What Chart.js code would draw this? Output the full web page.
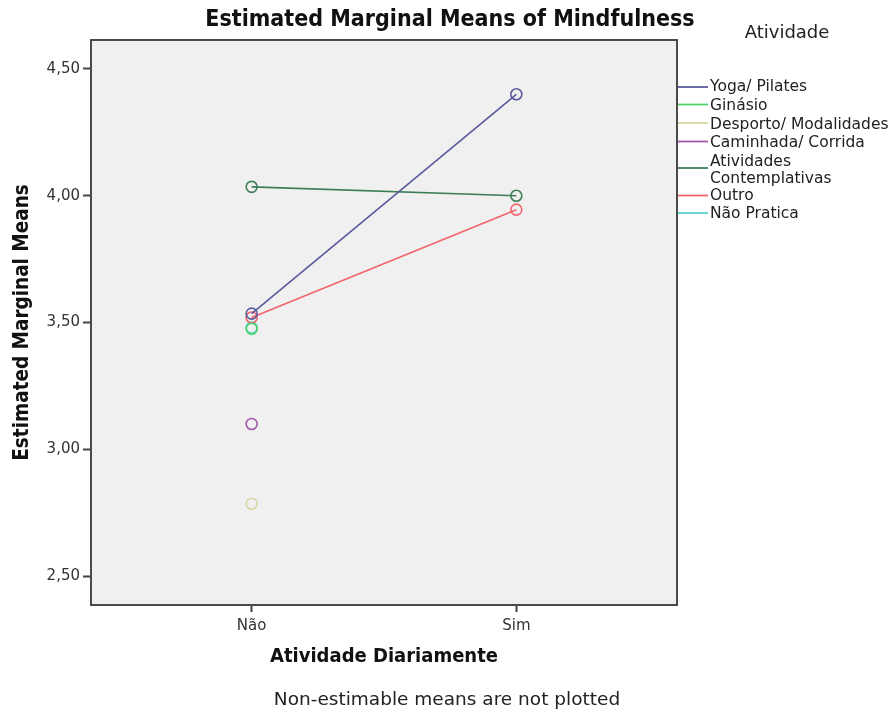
<!DOCTYPE html>
<html><head><meta charset="utf-8">
<script src="https://cdn.jsdelivr.net/npm/chart.js@4"></script>
<style>html,body{margin:0;padding:0;background:#fff}#wrap{width:892px;height:711px}</style>
</head><body><div id="wrap"><canvas id="c" width="892" height="711"></canvas></div>
<script>
// ---- data ----
const categories = ['Não', 'Sim'];
const seriesNames = ['Yoga/ Pilates', 'Ginásio', 'Desporto/ Modalidades', 'Caminhada/ Corrida', 'Atividades\nContemplativas', 'Outro', 'Não Pratica'];
const yoga = [3.535, 4.40];
const ginasio = [3.475, null];
const desporto = [2.785, null];
const caminhada = [3.10, null];
const contemplativas = [4.035, 4.00];
const outro = [3.52, 3.945];
const naoPratica = [3.48, null];
const yTickValues = [2.50, 3.00, 3.50, 4.00, 4.50];
const chartTitle = 'Estimated Marginal Means of Mindfulness';
const xTitle = 'Atividade Diariamente';
const yTitle = 'Estimated Marginal Means';
const legendTitle = 'Atividade';
const footNote = 'Non-estimable means are not plotted';

const seriesValues = [yoga, ginasio, desporto, caminhada, contemplativas, outro, naoPratica];
const seriesColors = ['#5a5a9e', '#52d46c', '#d9d5a2', '#a257aa', '#3e7d58', '#f2636c', '#55d2cc'];

const TITLE_FONT = '"Liberation Sans Narrow", "DejaVu Sans Condensed", sans-serif';
const BODY_FONT = '"DejaVu Sans", Verdana, sans-serif';

const datasets = seriesValues.map((vals, i) => ({
  label: seriesNames[i].replace('\n', ' '),
  data: vals.map((v, j) => ({x: j, y: v})),
  borderColor: seriesColors[i],
  backgroundColor: 'rgba(0,0,0,0)',
  pointBackgroundColor: 'rgba(0,0,0,0)',
  pointBorderColor: seriesColors[i],
  pointRadius: 5.5,
  pointBorderWidth: 1.6,
  pointHoverRadius: 5.5,
  borderWidth: 1.6,
  spanGaps: false,
  tension: 0
}));

const decor = {
  id: 'decor',
  beforeDraw(chart) {
    const {ctx, chartArea: a} = chart;
    ctx.save();
    ctx.fillStyle = '#fff';
    ctx.fillRect(0, 0, chart.width, chart.height);
    ctx.fillStyle = '#f0f0f0';
    ctx.fillRect(a.left, a.top, a.right - a.left, a.bottom - a.top);
    ctx.restore();
  },
  afterDraw(chart) {
    const {ctx, chartArea: a} = chart;
    ctx.save();
    // frame
    ctx.strokeStyle = '#4a4a4a';
    ctx.lineWidth = 2;
    ctx.strokeRect(a.left, a.top, a.right - a.left, a.bottom - a.top);
    // title
    ctx.fillStyle = '#111';
    ctx.textAlign = 'center';
    ctx.textBaseline = 'middle';
    ctx.font = 'bold 23px ' + TITLE_FONT;
    ctx.fillText(chartTitle, 450, 20);
    // footnote
    ctx.font = '18.5px ' + BODY_FONT;
    ctx.fillStyle = '#222';
    ctx.fillText(footNote, 447, 700);
    // legend
    ctx.font = '18px ' + BODY_FONT;
    ctx.fillStyle = '#222';
    ctx.fillText(legendTitle, 787, 33);
    const rows = [[87], [105.5], [124.5], [143], [161.5, 178.5], [196], [214]];
    const lineYs = [87, 104.5, 123, 141.5, 168, 195.5, 213];
    ctx.font = '15.5px ' + BODY_FONT;
    ctx.textAlign = 'left';
    chart.data.datasets.forEach((ds, i) => {
      ctx.strokeStyle = ds.borderColor;
      ctx.lineWidth = 1.8;
      ctx.beginPath();
      ctx.moveTo(a.right + 1, lineYs[i]);
      ctx.lineTo(a.right + 31, lineYs[i]);
      ctx.stroke();
      const parts = seriesNames[i].split('\n');
      ctx.fillStyle = '#222';
      parts.forEach((p, k) => ctx.fillText(p, a.right + 33, rows[i][k]));
    });
    ctx.restore();
  }
};

new Chart(document.getElementById('c'), {
  type: 'line',
  data: {datasets},
  plugins: [decor],
  options: {
    responsive: false,
    animation: false,
    devicePixelRatio: 1,
    layout: {padding: {left: 0, top: 40, right: 215, bottom: 36}},
    plugins: {legend: {display: false}, title: {display: false}, tooltip: {enabled: false}},
    scales: {
      x: {
        type: 'linear',
        min: -0.607,
        max: 1.607,
        afterFit(s) { s.height = 70; },
        afterBuildTicks(s) { s.ticks = categories.map((c, i) => ({value: i})); },
        ticks: {
          callback: (v) => categories[v] ?? '',
          font: {family: BODY_FONT, size: 15},
          color: '#333',
          padding: 5,
          maxRotation: 0
        },
        grid: {display: true, drawOnChartArea: false, drawTicks: true, tickLength: 7, tickColor: '#444', tickWidth: 2},
        border: {display: false},
        title: {display: true, text: xTitle, font: {family: TITLE_FONT, size: 20, weight: 'bold'}, color: '#111', padding: {top: 0, bottom: 6}}
      },
      y: {
        type: 'linear',
        min: 2.386,
        max: 4.614,
        afterFit(s) { s.width = 91; },
        afterBuildTicks(s) { s.ticks = yTickValues.map(v => ({value: v})); },
        ticks: {
          callback: (v) => v.toFixed(2).replace('.', ','),
          font: {family: BODY_FONT, size: 15},
          color: '#333',
          padding: 3
        },
        grid: {display: true, drawOnChartArea: false, drawTicks: true, tickLength: 8, tickColor: '#444', tickWidth: 2},
        border: {display: false},
        title: {display: true, text: yTitle, font: {family: TITLE_FONT, size: 20.5, weight: 'bold'}, color: '#111', padding: {top: 10, bottom: 0}}
      }
    }
  }
});
</script>
</body></html>
